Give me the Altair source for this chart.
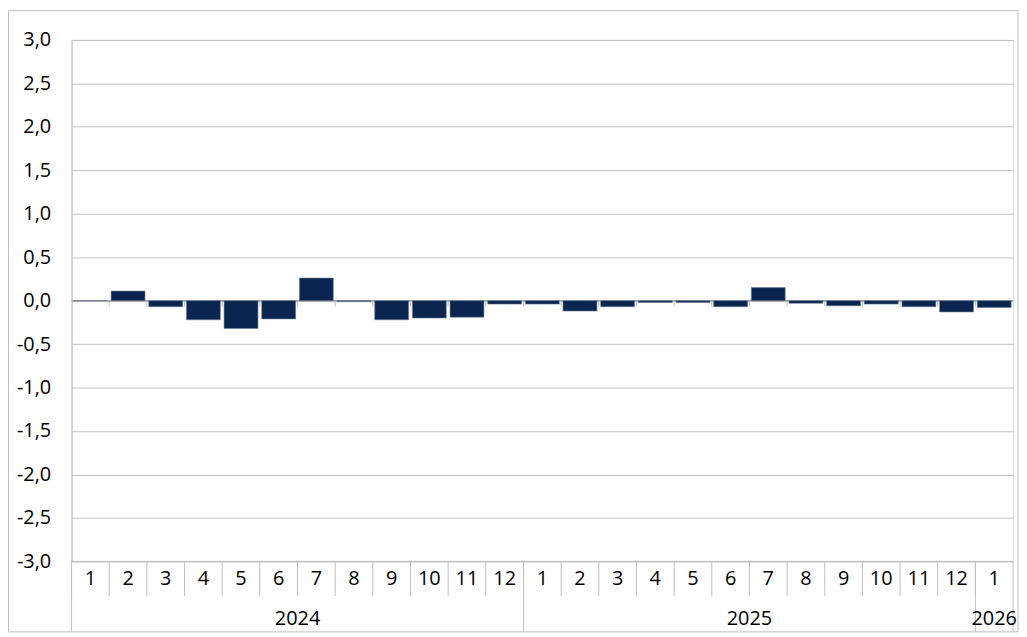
import altair as alt
import pandas as pd

years = [2024] * 12 + [2025] * 12 + [2026]
months = list(range(1, 13)) * 2 + [1]
values = [0.0, 0.11, -0.07, -0.22, -0.32, -0.21, 0.26, -0.01, -0.22, -0.20, -0.19, -0.04,
          -0.04, -0.12, -0.07, -0.02, -0.02, -0.07, 0.15, -0.03, -0.06, -0.04, -0.07, -0.13,
          -0.08]
y_ticks = [-3.0, -2.5, -2.0, -1.5, -1.0, -0.5, 0.0, 0.5, 1.0, 1.5, 2.0, 2.5, 3.0]

keys = [f"{y}-{m:02d}" for y, m in zip(years, months)]
df = pd.DataFrame({"key": keys, "year": years, "month": [str(m) for m in months], "value": values})

year_starts = df[df["month"] == "1"].copy()
year_full = pd.DataFrame({"key": ["2024-06", "2025-06"], "label": ["2024", "2025"]})
year_part = pd.DataFrame({"key": ["2026-01"], "label": ["2026"]})
last = df.tail(1)
inner = df.iloc[1:].copy()

W, H = 948, 525
FONT = "Open Sans"
FS = 20
GRID = "#BFBFBF"

xscale = alt.Scale(domain=keys, paddingInner=0, paddingOuter=0)
yscale = alt.Scale(domain=[-3, 3], nice=False)

def X(pos=0.5):
    return alt.X("key:N", scale=xscale, axis=None, bandPosition=pos)

base = alt.Chart(df)

bars = base.mark_bar(width=alt.RelativeBandSize(0.9), color="#0A2550",
                     stroke="#6A7B92", strokeWidth=0.6).encode(
    x=X(),
    y=alt.Y("value:Q", scale=yscale,
            axis=alt.Axis(values=y_ticks, title=None, grid=True, gridColor=GRID,
                          gridWidth=1, ticks=False, domainColor=GRID, labelFont=FONT,
                          labelFontSize=FS, labelColor="#000000", labelPadding=21,
                          labelExpr="(datum.value < 0 ? '-' : '') + replace(format(abs(datum.value), '.1f'), '.', ',')")),
)

zero_ticks = alt.Chart(inner).mark_tick(orient="vertical", size=6, thickness=1, color="#A6A6A6").encode(
    x=X(0), y=alt.datum(0, scale=yscale), yOffset=alt.value(3)
)

zero_line = alt.Chart(alt.Data(values=[{}])).mark_rule(color="#A6A6A6", strokeWidth=1.5).encode(
    y=alt.datum(0, scale=yscale), x=alt.value(0), x2=alt.value(W)
)

month_rules = base.mark_rule(color=GRID, strokeWidth=1).encode(
    x=X(0), y=alt.value(H), y2=alt.value(H + 35)
)
year_rules = alt.Chart(year_starts).mark_rule(color=GRID, strokeWidth=1).encode(
    x=X(0), y=alt.value(H), y2=alt.value(H + 71)
)
end_rule = alt.Chart(last).mark_rule(color=GRID, strokeWidth=1).encode(
    x=X(1), y=alt.value(H), y2=alt.value(H + 71)
)
month_row_line = alt.Chart(alt.Data(values=[{}])).mark_rule(color=GRID).encode(
    x=alt.value(0), x2=alt.value(W), y=alt.value(H)
)

month_text = base.mark_text(font=FONT, fontSize=FS, color="#000000", baseline="middle").encode(
    x=X(), y=alt.value(H + 18), text="month:N"
)
year_text1 = alt.Chart(year_full).mark_text(font=FONT, fontSize=FS, color="#000000",
                                            baseline="middle").encode(
    x=X(1), y=alt.value(H + 58), text="label:N"
)
year_text2 = alt.Chart(year_part).mark_text(font=FONT, fontSize=FS, color="#000000",
                                            baseline="middle").encode(
    x=X(0.5), y=alt.value(H + 58), text="label:N"
)

border = alt.Chart(alt.Data(values=[{}])).mark_rect(fill=None, stroke=GRID, strokeWidth=1).encode(
    x=alt.value(-63.5), x2=alt.value(953), y=alt.value(-29.5), y2=alt.value(H + 71)
)

chart = alt.layer(
    border, zero_ticks, zero_line, bars, month_rules, year_rules, end_rule, month_row_line,
    month_text, year_text1, year_text2
).properties(
    width=W, height=H,
    autosize=alt.AutoSizeParams(type="none"),
    padding={"left": 64, "top": 30, "right": 6, "bottom": 73},
).configure_view(stroke=None).configure(background="white")

chart.save("out.html", embed_options={"renderer": "svg", "actions": False})
